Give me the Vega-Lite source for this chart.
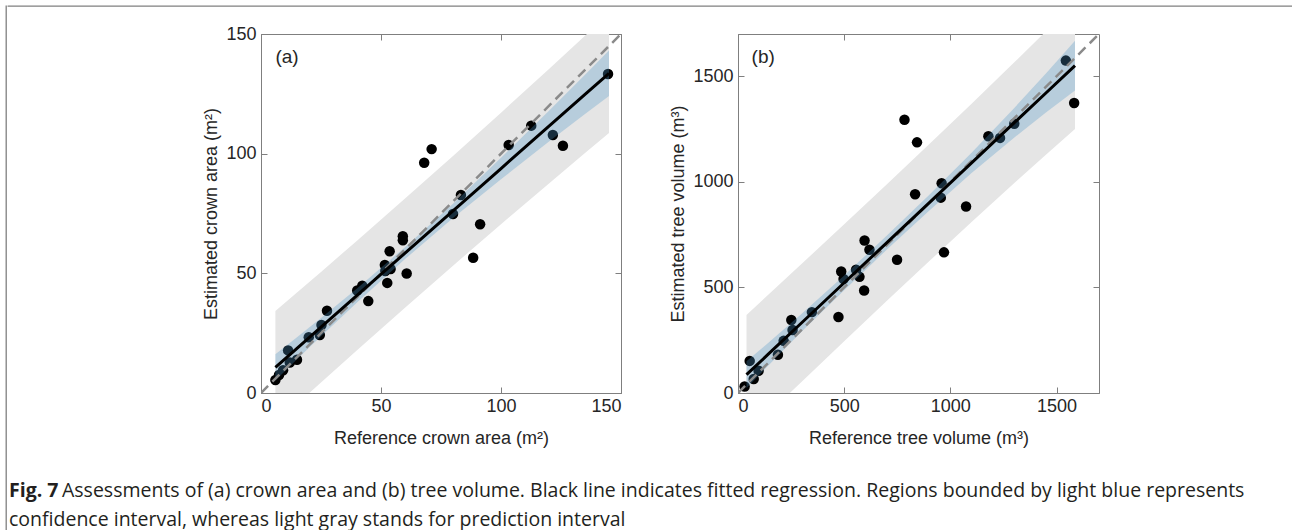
{
  "$schema": "https://vega.github.io/schema/vega-lite/v6.json",
  "padding": {"left": 5, "top": 5, "right": 2, "bottom": 0},
  "background": "white",
  "config": {
    "font": "Liberation Sans",
    "view": {"stroke": "#7f7f7f", "strokeWidth": 1},
    "axis": {
      "grid": false,
      "domainColor": "#7f7f7f",
      "tickColor": "#7f7f7f",
      "tickSize": -6,
      "format": "d",
      "labelFont": "Liberation Sans",
      "labelFontSize": 18,
      "labelColor": "#262626",
      "titleFont": "Liberation Sans",
      "titleFontSize": 18,
      "titleFontWeight": "normal",
      "titleColor": "#262626"
    }
  },
  "datasets": {
    "pointsA": [
      {"ref": 6.0, "est": 5.4}, {"ref": 7.5, "est": 7.5}, {"ref": 9.2, "est": 9.5}, {"ref": 11.3, "est": 17.8},
      {"ref": 12.0, "est": 12.7}, {"ref": 15.0, "est": 13.9}, {"ref": 19.9, "est": 23.3}, {"ref": 24.5, "est": 24.2},
      {"ref": 25.2, "est": 28.4}, {"ref": 27.5, "est": 34.4}, {"ref": 40.1, "est": 42.8}, {"ref": 42.2, "est": 44.8},
      {"ref": 44.7, "est": 38.4}, {"ref": 51.6, "est": 53.5}, {"ref": 52.6, "est": 46.0}, {"ref": 53.6, "est": 59.2},
      {"ref": 54.0, "est": 51.8}, {"ref": 51.8, "est": 51.0}, {"ref": 59.1, "est": 65.5}, {"ref": 59.1, "est": 63.8},
      {"ref": 60.7, "est": 49.9}, {"ref": 68.0, "est": 96.2}, {"ref": 71.1, "est": 101.9}, {"ref": 80.0, "est": 74.8},
      {"ref": 83.3, "est": 82.7}, {"ref": 88.4, "est": 56.5}, {"ref": 91.3, "est": 70.5}, {"ref": 103.2, "est": 103.6},
      {"ref": 112.6, "est": 111.7}, {"ref": 121.6, "est": 107.8}, {"ref": 125.8, "est": 103.3}, {"ref": 144.6, "est": 133.3}
    ],
    "bandsA": [
      {"x": 6, "fit": 10.7, "ci_lo": 5.2, "ci_hi": 16.2, "pi_lo": -12.9, "pi_hi": 34.3},
      {"x": 15, "fit": 18.66, "ci_lo": 14.06, "ci_hi": 23.26, "pi_lo": -4.64, "pi_hi": 41.96},
      {"x": 25, "fit": 27.5, "ci_lo": 23.7, "ci_hi": 31.3, "pi_lo": 4.4, "pi_hi": 50.6},
      {"x": 40, "fit": 40.76, "ci_lo": 37.86, "ci_hi": 43.66, "pi_lo": 17.86, "pi_hi": 63.66},
      {"x": 60, "fit": 58.44, "ci_lo": 55.94, "ci_hi": 60.94, "pi_lo": 35.64, "pi_hi": 81.24},
      {"x": 80, "fit": 76.12, "ci_lo": 73.12, "ci_hi": 79.12, "pi_lo": 53.22, "pi_hi": 99.02},
      {"x": 100, "fit": 93.8, "ci_lo": 89.3, "ci_hi": 98.3, "pi_lo": 70.5, "pi_hi": 117.1},
      {"x": 120, "fit": 111.48, "ci_lo": 105.08, "ci_hi": 117.88, "pi_lo": 87.58, "pi_hi": 135.38},
      {"x": 135, "fit": 124.74, "ci_lo": 116.54, "ci_hi": 132.94, "pi_lo": 100.24, "pi_hi": 149.24},
      {"x": 145, "fit": 133.58, "ci_lo": 124.08, "ci_hi": 143.08, "pi_lo": 108.68, "pi_hi": 158.48}
    ],
    "diagA": [{"x": 0, "y": 0}, {"x": 150, "y": 150}],
    "pointsB": [
      {"ref": 31, "est": 31}, {"ref": 55, "est": 152}, {"ref": 74, "est": 66}, {"ref": 97, "est": 105},
      {"ref": 188, "est": 181}, {"ref": 215, "est": 247}, {"ref": 251, "est": 346}, {"ref": 257, "est": 298},
      {"ref": 348, "est": 383}, {"ref": 473, "est": 360}, {"ref": 486, "est": 575}, {"ref": 497, "est": 540},
      {"ref": 556, "est": 584}, {"ref": 572, "est": 550}, {"ref": 594, "est": 485}, {"ref": 596, "est": 722},
      {"ref": 619, "est": 678}, {"ref": 749, "est": 631}, {"ref": 784, "est": 1294}, {"ref": 834, "est": 941},
      {"ref": 843, "est": 1187}, {"ref": 959, "est": 993}, {"ref": 955, "est": 925}, {"ref": 970, "est": 666},
      {"ref": 1074, "est": 883}, {"ref": 1179, "est": 1216}, {"ref": 1234, "est": 1208}, {"ref": 1301, "est": 1275},
      {"ref": 1544, "est": 1574}, {"ref": 1583, "est": 1373}
    ],
    "bandsB": [
      {"x": 40, "fit": 86.8, "ci_lo": 23.8, "ci_hi": 149.8, "pi_lo": -196.2, "pi_hi": 369.8},
      {"x": 150, "fit": 190.9, "ci_lo": 137.9, "ci_hi": 243.9, "pi_lo": -90.1, "pi_hi": 471.9},
      {"x": 300, "fit": 332.8, "ci_lo": 290.8, "ci_hi": 374.8, "pi_lo": 53.8, "pi_hi": 611.8},
      {"x": 500, "fit": 522, "ci_lo": 487, "ci_hi": 557, "pi_lo": 245, "pi_hi": 799},
      {"x": 700, "fit": 711.2, "ci_lo": 678.2, "ci_hi": 744.2, "pi_lo": 435.2, "pi_hi": 987.2},
      {"x": 900, "fit": 900.4, "ci_lo": 863.4, "ci_hi": 937.4, "pi_lo": 623.4, "pi_hi": 1177.4},
      {"x": 1100, "fit": 1089.6, "ci_lo": 1041.6, "ci_hi": 1137.6, "pi_lo": 809.6, "pi_hi": 1369.6},
      {"x": 1300, "fit": 1278.8, "ci_lo": 1208.8, "ci_hi": 1348.8, "pi_lo": 992.8, "pi_hi": 1564.8},
      {"x": 1450, "fit": 1420.7, "ci_lo": 1328.7, "ci_hi": 1512.7, "pi_lo": 1128.7, "pi_hi": 1712.7},
      {"x": 1587, "fit": 1550.3, "ci_lo": 1432.3, "ci_hi": 1668.3, "pi_lo": 1250.3, "pi_hi": 1850.3}
    ],
    "diagB": [{"x": 0, "y": 0}, {"x": 1700, "y": 1700}],
    "caption": [
      {"line": 1, "part": "label", "text": "Fig. 7"},
      {"line": 1, "part": "body", "text": "Assessments of (a) crown area and (b) tree volume. Black line indicates fitted regression. Regions bounded by light blue represents"},
      {"line": 2, "part": "body", "text": "confidence interval, whereas light gray stands for prediction interval"}
    ],
    "empty": []
  },
  "spacing": 0,
  "hconcat": [
    {
      "width": 0.01,
      "height": 524,
      "view": {"stroke": "#808080", "strokeWidth": 1.3, "fill": null},
      "data": {"name": "empty"},
      "mark": "point",
      "encoding": {}
    },
    {
      "spacing": 17,
      "vconcat": [
        {
          "width": 1284,
          "height": 0.01,
          "view": {"stroke": "#808080", "strokeWidth": 1.3, "fill": null},
          "data": {"name": "empty"},
          "mark": "point",
          "encoding": {}
        },
        {
          "spacing": 47,
          "hconcat": [
            {
              "width": 147,
              "height": 1,
              "view": {"stroke": null, "fill": null},
              "data": {"name": "empty"},
              "mark": "point",
              "encoding": {}
            },
            {
              "width": 360,
              "height": 359,
              "resolve": {"axis": {"x": "independent", "y": "independent"}},
              "layer": [
                {
                  "data": {"name": "bandsA"},
                  "mark": {"type": "area", "color": "#e5e5e5", "clip": true},
                  "encoding": {
                    "x": {"field": "x", "type": "quantitative", "scale": {"domain": [0, 150]},
                          "axis": {"orient": "bottom", "values": [0, 50, 100, 150], "title": "Reference crown area (m²)", "labelPadding": 10, "titlePadding": 14}},
                    "y": {"field": "pi_lo", "type": "quantitative", "scale": {"domain": [0, 150]},
                          "axis": {"orient": "left", "values": [0, 50, 100, 150], "title": "Estimated crown area (m²)", "labelPadding": 11, "titlePadding": 5}},
                    "y2": {"field": "pi_hi"}
                  }
                },
                {
                  "data": {"name": "pointsA"},
                  "mark": {"type": "circle", "size": 110, "color": "#000000", "opacity": 1, "clip": true},
                  "encoding": {
                    "x": {"field": "ref", "type": "quantitative", "scale": {"domain": [0, 150]}, "axis": null},
                    "y": {"field": "est", "type": "quantitative", "scale": {"domain": [0, 150]}, "axis": null}
                  }
                },
                {
                  "data": {"name": "bandsA"},
                  "mark": {"type": "area", "color": "#4d94c6", "opacity": 0.3, "clip": true},
                  "encoding": {
                    "x": {"field": "x", "type": "quantitative", "scale": {"domain": [0, 150]}, "axis": null},
                    "y": {"field": "ci_lo", "type": "quantitative", "scale": {"domain": [0, 150]}, "axis": null},
                    "y2": {"field": "ci_hi"}
                  }
                },
                {
                  "data": {"name": "diagA"},
                  "mark": {"type": "line", "color": "#8a8a8a", "strokeWidth": 2.5, "strokeDash": [10, 6], "clip": true},
                  "encoding": {
                    "x": {"field": "x", "type": "quantitative", "scale": {"domain": [0, 150]}, "axis": null},
                    "y": {"field": "y", "type": "quantitative", "scale": {"domain": [0, 150]}, "axis": null}
                  }
                },
                {
                  "data": {"name": "bandsA"},
                  "mark": {"type": "line", "color": "#000000", "strokeWidth": 3, "clip": true},
                  "encoding": {
                    "x": {"field": "x", "type": "quantitative", "scale": {"domain": [0, 150]},
                          "axis": {"orient": "top", "values": [0, 50, 100, 150], "labels": false, "title": null, "domain": false}},
                    "y": {"field": "fit", "type": "quantitative", "scale": {"domain": [0, 150]},
                          "axis": {"orient": "right", "values": [0, 50, 100, 150], "labels": false, "title": null, "domain": false}}
                  }
                },
                {
                  "data": {"values": [{"label": "(a)"}]},
                  "mark": {"type": "text", "align": "left", "baseline": "middle", "fontSize": 19, "color": "#262626"},
                  "encoding": {
                    "x": {"datum": 6, "type": "quantitative", "scale": {"domain": [0, 150]}, "axis": null},
                    "y": {"datum": 140.4, "type": "quantitative", "scale": {"domain": [0, 150]}, "axis": null},
                    "text": {"field": "label"}
                  }
                }
              ]
            },
            {
              "width": 361,
              "height": 359,
              "resolve": {"axis": {"x": "independent", "y": "independent"}},
              "layer": [
                {
                  "data": {"name": "bandsB"},
                  "mark": {"type": "area", "color": "#e5e5e5", "clip": true},
                  "encoding": {
                    "x": {"field": "x", "type": "quantitative", "scale": {"domain": [0, 1700]},
                          "axis": {"orient": "bottom", "values": [0, 500, 1000, 1500], "title": "Reference tree volume (m³)", "labelPadding": 10, "titlePadding": 14}},
                    "y": {"field": "pi_lo", "type": "quantitative", "scale": {"domain": [0, 1700]},
                          "axis": {"orient": "left", "values": [0, 500, 1000, 1500], "title": "Estimated tree volume (m³)", "labelPadding": 11, "titlePadding": 5}},
                    "y2": {"field": "pi_hi"}
                  }
                },
                {
                  "data": {"name": "pointsB"},
                  "mark": {"type": "circle", "size": 110, "color": "#000000", "opacity": 1, "clip": true},
                  "encoding": {
                    "x": {"field": "ref", "type": "quantitative", "scale": {"domain": [0, 1700]}, "axis": null},
                    "y": {"field": "est", "type": "quantitative", "scale": {"domain": [0, 1700]}, "axis": null}
                  }
                },
                {
                  "data": {"name": "bandsB"},
                  "mark": {"type": "area", "color": "#4d94c6", "opacity": 0.3, "clip": true},
                  "encoding": {
                    "x": {"field": "x", "type": "quantitative", "scale": {"domain": [0, 1700]}, "axis": null},
                    "y": {"field": "ci_lo", "type": "quantitative", "scale": {"domain": [0, 1700]}, "axis": null},
                    "y2": {"field": "ci_hi"}
                  }
                },
                {
                  "data": {"name": "diagB"},
                  "mark": {"type": "line", "color": "#8a8a8a", "strokeWidth": 2.5, "strokeDash": [10, 6], "clip": true},
                  "encoding": {
                    "x": {"field": "x", "type": "quantitative", "scale": {"domain": [0, 1700]}, "axis": null},
                    "y": {"field": "y", "type": "quantitative", "scale": {"domain": [0, 1700]}, "axis": null}
                  }
                },
                {
                  "data": {"name": "bandsB"},
                  "mark": {"type": "line", "color": "#000000", "strokeWidth": 3, "clip": true},
                  "encoding": {
                    "x": {"field": "x", "type": "quantitative", "scale": {"domain": [0, 1700]},
                          "axis": {"orient": "top", "values": [0, 500, 1000, 1500], "labels": false, "title": null, "domain": false}},
                    "y": {"field": "fit", "type": "quantitative", "scale": {"domain": [0, 1700]},
                          "axis": {"orient": "right", "values": [0, 500, 1000, 1500], "labels": false, "title": null, "domain": false}}
                  }
                },
                {
                  "data": {"values": [{"label": "(b)"}]},
                  "mark": {"type": "text", "align": "left", "baseline": "middle", "fontSize": 19, "color": "#262626"},
                  "encoding": {
                    "x": {"datum": 64, "type": "quantitative", "scale": {"domain": [0, 1700]}, "axis": null},
                    "y": {"datum": 1591, "type": "quantitative", "scale": {"domain": [0, 1700]}, "axis": null},
                    "text": {"field": "label"}
                  }
                }
              ]
            }
          ]
        },
        {
          "width": 1284,
          "height": 60,
          "view": {"stroke": null, "fill": null},
          "data": {"name": "caption"},
          "layer": [
            {
              "transform": [{"filter": "datum.part === 'label'"}],
              "mark": {"type": "text", "align": "left", "baseline": "middle", "font": "Open Sans", "fontSize": 19.5, "fontWeight": "bold", "color": "#231f20", "dx": 1},
              "encoding": {
                "x": {"datum": 0, "type": "quantitative", "scale": {"domain": [0, 1]}, "axis": null},
                "y": {"field": "line", "type": "quantitative", "scale": {"domain": [0.1034, 2.172], "reverse": true}, "axis": null},
                "text": {"field": "text"}
              }
            },
            {
              "transform": [{"filter": "datum.part === 'body' && datum.line === 1"}],
              "mark": {"type": "text", "align": "left", "baseline": "middle", "font": "Open Sans", "fontSize": 19.5, "color": "#231f20", "dx": 54},
              "encoding": {
                "x": {"datum": 0, "type": "quantitative", "scale": {"domain": [0, 1]}, "axis": null},
                "y": {"field": "line", "type": "quantitative", "scale": {"domain": [0.1034, 2.172], "reverse": true}, "axis": null},
                "text": {"field": "text"}
              }
            },
            {
              "transform": [{"filter": "datum.part === 'body' && datum.line === 2"}],
              "mark": {"type": "text", "align": "left", "baseline": "middle", "font": "Open Sans", "fontSize": 19.5, "color": "#231f20", "dx": 1},
              "encoding": {
                "x": {"datum": 0, "type": "quantitative", "scale": {"domain": [0, 1]}, "axis": null},
                "y": {"field": "line", "type": "quantitative", "scale": {"domain": [0.1034, 2.172], "reverse": true}, "axis": null},
                "text": {"field": "text"}
              }
            }
          ]
        }
      ]
    },
    {
      "width": 0.01,
      "height": 524,
      "view": {"stroke": "#808080", "strokeWidth": 1.3, "fill": null},
      "data": {"name": "empty"},
      "mark": "point",
      "encoding": {}
    }
  ]
}
